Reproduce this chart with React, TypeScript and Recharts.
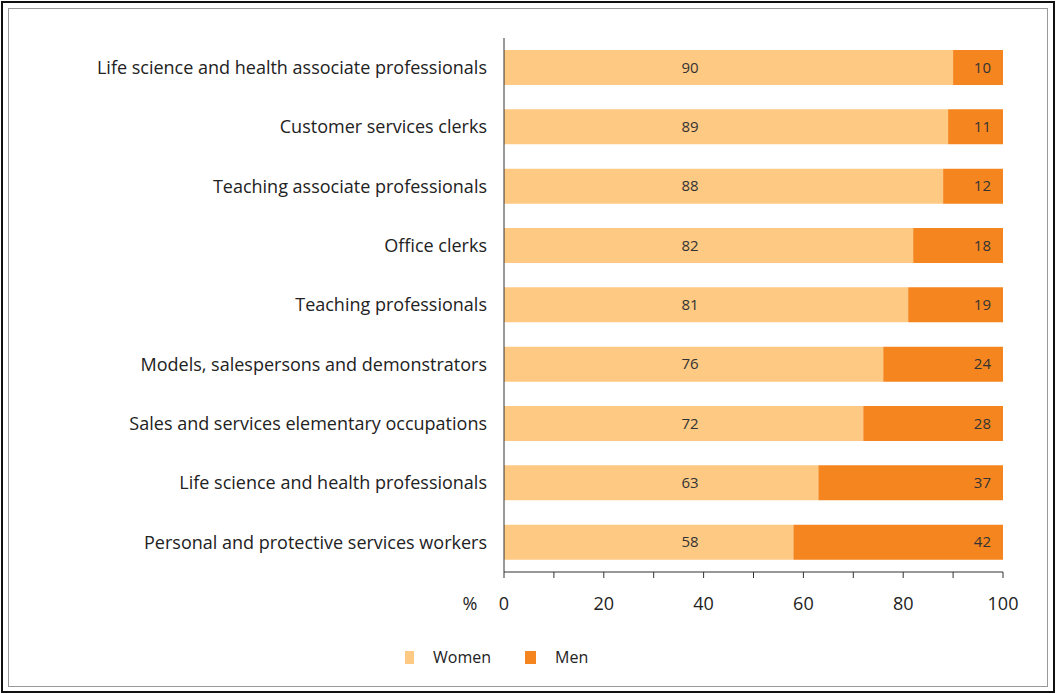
import React from 'react';
import { Bar, BarChart, LabelList, XAxis, YAxis } from 'recharts';

const categories = [
    'Life science and health associate professionals',
    'Customer services clerks',
    'Teaching associate professionals',
    'Office clerks',
    'Teaching professionals',
    'Models, salespersons and demonstrators',
    'Sales and services elementary occupations',
    'Life science and health professionals',
    'Personal and protective services workers',
];
const women = [90, 89, 88, 82, 81, 76, 72, 63, 58];
const men = [10, 11, 12, 18, 19, 24, 28, 37, 42];
const xTicks = [0, 10, 20, 30, 40, 50, 60, 70, 80, 90, 100];

const data = categories.map((name, i) => ({ name, women: women[i], men: men[i] }));

const WOMEN = '#fdc983';
const MEN = '#f5861f';
const FONT = '"Open Sans", sans-serif';

const XTick = ({ x, y, payload }: any) => {
    const v = payload.value;
    if (v % 20 !== 0) return null;
    return (
        <g>
            <text x={x} y={y + 30} textAnchor="middle" fontSize={18} fill="#222" fontFamily={FONT}>{v}</text>
            {v === 0 && (
                <text x={x - 34} y={y + 30} textAnchor="middle" fontSize={18} fill="#222" fontFamily={FONT}>%</text>
            )}
        </g>
    );
};

// women values sit at a fixed x inside the bar, men values right aligned
const WomenLabel = ({ y, height, value }: any) => (
    <text x={690} y={y + height / 2 + 5} textAnchor="middle" fontSize={15} fill="#333" fontFamily={FONT}>{value}</text>
);
const MenLabel = ({ x, y, width, height, value }: any) => (
    <text x={x + width - 12} y={y + height / 2 + 5} textAnchor="end" fontSize={15} fill="#333" fontFamily={FONT}>{value}</text>
);

const App: React.FC = () => {
    return (
        <div style={{ position: 'absolute', left: 0, top: 0, width: 1056, height: 694, background: '#fff' }}>
            <div style={{ position: 'absolute', left: 1, top: 1, width: 1050, height: 688, border: '2px solid #111' }} />
            <div style={{ position: 'absolute', left: 8, top: 8, width: 1038, height: 677, border: '1px solid #999' }} />
            <div style={{ position: 'absolute', left: 0, top: 0 }}>
                <BarChart
                    width={1056}
                    height={694}
                    data={data}
                    layout="vertical"
                    margin={{ top: 38, right: 53, left: 0, bottom: 92 }}
                    barSize={35}
                >
                    <XAxis
                        type="number"
                        domain={[0, 100]}
                        ticks={xTicks}
                        interval={0}
                        tick={<XTick />}
                        tickSize={6}
                        height={30}
                        stroke="#333"
                        tickLine={{ stroke: '#333' }}
                    />
                    <YAxis
                        type="category"
                        dataKey="name"
                        width={504}
                        tickLine={false}
                        stroke="#333"
                        tick={{ fill: '#222', fontSize: 18, fontFamily: FONT }}
                        tickMargin={11}
                    />
                    <Bar dataKey="women" stackId="a" fill={WOMEN} isAnimationActive={false}>
                        <LabelList dataKey="women" content={<WomenLabel />} />
                    </Bar>
                    <Bar dataKey="men" stackId="a" fill={MEN} isAnimationActive={false}>
                        <LabelList dataKey="men" content={<MenLabel />} />
                    </Bar>
                </BarChart>
            </div>
            <div style={{ position: 'absolute', top: 646, left: 0, display: 'flex', alignItems: 'center', fontFamily: FONT, fontSize: 16, color: '#222' }}>
                <span style={{ width: 9, height: 13, background: WOMEN, marginLeft: 405, marginRight: 19 }} />
                <span>Women</span>
                <span style={{ width: 11, height: 13, background: MEN, marginLeft: 34, marginRight: 19 }} />
                <span>Men</span>
            </div>
        </div>
    );
};

export default App;
